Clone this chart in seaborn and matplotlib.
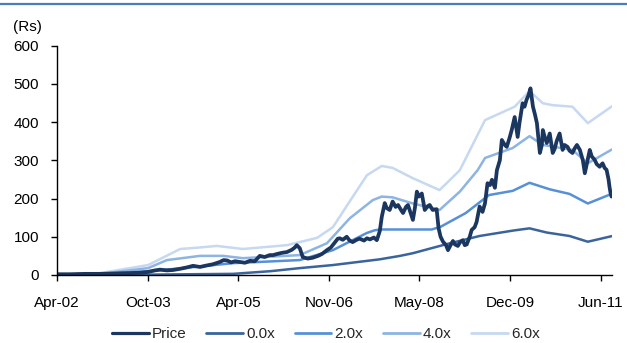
import matplotlib
matplotlib.use("Agg")
import matplotlib.pyplot as plt
import seaborn as sns
import pandas as pd
from matplotlib.lines import Line2D

# ---------------- data (x = months since Apr-2002, values in Rs) ----------------
price_m = [0.0, 2.6, 5.6, 8.7, 11.7, 14.7, 16.8, 18.4, 19.8, 20.8, 22.2, 23.4, 24.8, 26.3, 27.5,
           28.9, 30.3, 31.5, 32.9, 33.7, 34.4, 35.2, 36.0, 37.0, 38.0, 39.0, 40.0, 41.0, 42.0, 43.0,
           43.7, 44.5, 45.5, 46.5, 47.5, 48.1, 48.5, 49.1, 49.7, 50.7, 51.7, 52.8, 53.6, 54.6, 55.4,
           56.2, 56.8, 57.2, 57.8, 58.6, 59.2, 59.8, 60.6, 61.2, 62.1, 62.7, 63.3, 64.1, 64.7, 65.3,
           65.7, 66.3, 66.7, 67.3, 67.9, 68.5, 69.0, 69.6, 70.0, 70.6, 71.0, 71.6, 72.0, 72.4, 72.8,
           73.2, 73.8, 74.4, 75.0, 75.4, 76.0, 76.8, 77.2, 77.6, 78.1, 78.7, 79.1, 79.5, 80.1, 80.5,
           81.1, 81.5, 82.1, 82.5, 82.9, 83.5, 83.9, 84.5, 84.9, 85.5, 86.1, 86.6, 87.1, 87.6, 88.0,
           88.6, 89.0, 89.6, 90.0, 90.6, 91.0, 91.6, 92.0, 92.6, 93.2, 93.6, 94.2, 94.6, 95.0, 95.4,
           95.8, 96.3, 96.7, 97.1, 97.7, 98.1, 98.3, 98.7, 99.1, 99.7, 100.3, 100.7, 101.1, 101.7,
           102.3, 102.7, 103.3, 103.7, 104.3, 104.7, 105.2, 105.8, 106.4, 106.8, 107.2, 107.8, 108.2,
           108.8, 109.2, 109.8, 110.4, 110.8, 111.2, 111.6, 111.8, 112.0, 112.2]
price_v = [2, 2, 3, 3, 4, 5, 6, 8, 12, 14, 12, 13, 16, 20, 24,
           21, 25, 28, 34, 39, 38, 33, 36, 34, 32, 37, 36, 50, 47, 52,
           52, 55, 58, 60, 66, 72, 78, 70, 47, 43, 45, 50, 55, 65, 72,
           85, 95, 96, 92, 100, 90, 86, 92, 95, 90, 96, 93, 98, 91, 115,
           152, 188, 175, 170, 192, 178, 183, 170, 162, 178, 183, 160, 144, 175, 218,
           205, 213, 170, 180, 183, 170, 172, 122, 100, 87, 78, 65, 75, 89, 80,
           76, 85, 91, 78, 80, 100, 118, 125, 139, 179, 165, 188, 240, 235, 249,
           228, 274, 300, 353, 340, 335, 360, 379, 413, 361, 400, 449, 440, 458, 470,
           488, 440, 420, 397, 319, 340, 379, 360, 345, 370, 319, 330, 350, 370,
           327, 340, 335, 325, 319, 330, 340, 327, 300, 266, 290, 327, 310,
           301, 290, 283, 292, 280, 275, 250, 230, 215, 205]

b0_m = [0.0, 18.4, 35.6, 43.2, 49.1, 55.8, 65.3, 69.4, 72.0, 78.9, 85.5, 92.2, 95.6, 99.1, 103.7, 107.4, 112.4]
b0_v = [0, 1, 3, 10, 18, 26, 41, 50, 57, 81, 102, 116, 122, 111, 102, 87, 102]

b2_m = [0.0, 8.7, 18.4, 25.5, 35.6, 49.1, 55.8, 62.7, 64.3, 65.3, 75.8, 77.6, 82.7, 87.4, 92.2, 95.6,
        99.7, 103.7, 107.4, 112.4]
b2_v = [0, 2, 10, 18, 31, 39, 65, 110, 117, 119, 119, 126, 162, 209, 220, 241, 224, 212, 187, 213]

b4_m = [0.0, 8.7, 18.4, 22.2, 28.9, 33.6, 37.6, 49.1, 54.6, 59.2, 63.9, 65.7, 67.9, 72.0, 77.4, 81.5,
        85.1, 86.6, 92.2, 95.6, 98.3, 104.3, 107.4, 112.4]
b4_v = [0, 3, 18, 39, 50, 50, 44, 52, 83, 148, 196, 205, 203, 187, 170, 218, 274, 306, 332, 363, 340,
        327, 292, 329]

b6_m = [0.0, 8.7, 18.4, 24.9, 28.9, 32.3, 37.6, 46.5, 52.6, 55.8, 59.8, 62.7, 65.7, 67.9, 72.0, 77.4,
        81.5, 86.6, 92.6, 95.6, 98.3, 100.3, 104.3, 107.4, 112.4]
b6_v = [0, 5, 26, 68, 72, 76, 68, 78, 97, 125, 204, 261, 285, 280, 253, 222, 274, 405, 440, 481, 449,
        444, 440, 397, 442]

tick_pos = [0, 18.33, 36.67, 55.0, 73.33, 91.67, 110.0]
tick_labels = ["Apr-02", "Oct-03", "Apr-05", "Nov-06", "May-08", "Dec-09", "Jun-11"]
y_ticks = [0, 100, 200, 300, 400, 500, 600]

series_names = ["Price", "0.0x", "2.0x", "4.0x", "6.0x"]
colors = {"Price": "#1B3760", "0.0x": "#3A659C", "2.0x": "#5690D6", "4.0x": "#8DB4E2", "6.0x": "#C6D9F1"}

# ---------------- plot ----------------
sns.set_theme(style="white")
plt.rcParams["font.family"] = ["Liberation Sans", "DejaVu Sans"]

W, H = 627, 343
fig = plt.figure(figsize=(W / 100, H / 100), dpi=100)
ax = fig.add_axes([57.2 / W, 1 - 275 / H, (612 - 57.2) / W, (275 - 45.5) / H])

bands = [("6.0x", b6_m, b6_v), ("4.0x", b4_m, b4_v), ("2.0x", b2_m, b2_v), ("0.0x", b0_m, b0_v)]
for name, m, v in bands:
    df = pd.DataFrame({"m": m, "v": v})
    sns.lineplot(data=df, x="m", y="v", color=colors[name], linewidth=1.8, ax=ax, legend=False)

dfp = pd.DataFrame({"m": price_m, "v": price_v})
sns.lineplot(data=dfp, x="m", y="v", color=colors["Price"], linewidth=2.7, ax=ax, legend=False)

ax.set_xlim(0, 112.3)
ax.set_ylim(0, 600)
ax.set_xticks(tick_pos)
ax.set_xticklabels(tick_labels)
ax.set_yticks(y_ticks)
ax.set_xlabel("")
ax.set_ylabel("")
for s in ["top", "right"]:
    ax.spines[s].set_visible(False)
for s in ["left", "bottom"]:
    ax.spines[s].set_color("black")
    ax.spines[s].set_linewidth(1.0)
ax.tick_params(axis="both", which="major", bottom=True, left=True, direction="out",
               length=4, width=1, color="black", labelsize=11, labelcolor="black")
ax.tick_params(axis="y", pad=9)
ax.tick_params(axis="x", pad=11)

handles = [Line2D([0], [0], color=colors[n], lw=2.3 if n == "Price" else 2.0) for n in series_names]
fig.legend(handles, series_names, loc="center", bbox_to_anchor=(326 / W, 1 - 334 / H), ncol=5,
           frameon=False, fontsize=11, handlelength=2.4, handletextpad=0.2, columnspacing=1.3)

fig.text(27 / W, 1 - 27 / H, "(Rs)", ha="center", va="center", fontsize=11, color="black")
fig.add_artist(Line2D([0, 1], [1 - 4 / H, 1 - 4 / H], color="#4A7EBB", lw=1.6,
                      transform=fig.transFigure))

fig.savefig("out.png", dpi=100)
